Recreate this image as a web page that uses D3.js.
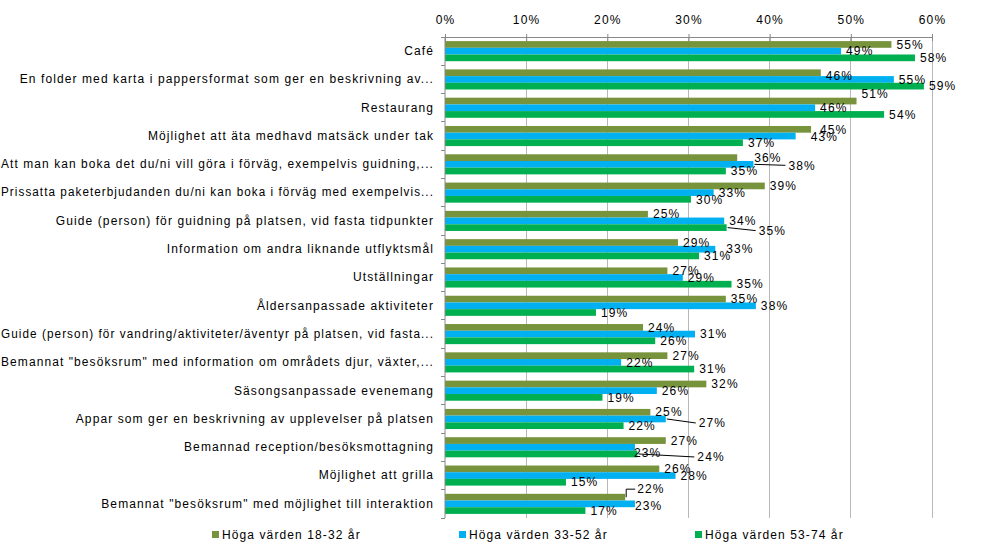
<!DOCTYPE html>
<html><head><meta charset="utf-8">
<script src="https://cdn.jsdelivr.net/npm/d3@7"></script>
<style>
html,body{margin:0;padding:0;background:#fff;}
svg{display:block;}
text{font-family:"Liberation Sans",Arial,sans-serif;fill:#000;}
</style></head>
<body><svg id="c" width="982" height="543"></svg>
<script>
const categories = [
  "Café",
  "En folder med karta i pappersformat som ger en beskrivning av...",
  "Restaurang",
  "Möjlighet att äta medhavd matsäck under tak",
  "Att man kan boka det du/ni vill göra i förväg, exempelvis guidning,...",
  "Prissatta paketerbjudanden du/ni kan boka i förväg med exempelvis...",
  "Guide (person) för guidning på platsen, vid fasta tidpunkter",
  "Information om andra liknande utflyktsmål",
  "Utställningar",
  "Åldersanpassade aktiviteter",
  "Guide (person) för vandring/aktiviteter/äventyr på platsen, vid fasta...",
  "Bemannat \"besöksrum\" med information om områdets djur, växter,...",
  "Säsongsanpassade evenemang",
  "Appar som ger en beskrivning av upplevelser på platsen",
  "Bemannad reception/besöksmottagning",
  "Möjlighet att grilla",
  "Bemannat \"besöksrum\" med möjlighet till interaktion"
];
const seriesNames = ["Höga värden 18-32 år", "Höga värden 33-52 år", "Höga värden 53-74 år"];
const values1832 = [55.0, 46.3, 50.7, 45.1, 36.0, 39.4, 25.0, 28.7, 27.4, 34.6, 24.4, 27.4, 32.2, 25.3, 27.2, 26.4, 22.2];
const values3352 = [48.8, 55.3, 45.6, 43.2, 38.0, 33.1, 34.4, 33.3, 29.3, 38.3, 30.8, 21.7, 26.1, 27.2, 23.4, 28.4, 23.4];
const values5374 = [57.9, 59.0, 54.1, 36.7, 34.6, 30.3, 34.7, 31.3, 35.3, 18.6, 25.9, 30.7, 19.4, 22.0, 23.7, 14.9, 17.3];
const xTicks = [0, 10, 20, 30, 40, 50, 60];
const seriesColors = ["#77933C", "#00B0F0", "#00B050"];
// label nudges [seriesIndex, categoryIndex, dx, dy, leader]
const labelNudges = [
  [0,1,0,3,false],[0,2,0,-7,false],[0,3,4,0,false],[1,3,10,1,false],[0,4,12,0,false],
  [1,4,30,1,true],[2,6,27,3,true],[1,7,6,0,false],[1,13,28,4,true],
  [1,14,-6,6,false],[2,14,55,3,true],[0,16,7,-8,true],[1,16,-5,2,false]
];

const allSeries = [values1832, values3352, values5374];
const svg = d3.select("#c");
const L = 445, R = 932, T = 37, B = 518;
const FONT = "'Liberation Sans', Arial, sans-serif";
const x = d3.scaleLinear().domain([0, 60]).range([L, R]);
const y0 = d3.scaleBand().domain(categories).range([T, B]).paddingInner(0.29).paddingOuter(0.145);
const y1 = d3.scaleBand().domain(d3.range(3)).range([0, y0.bandwidth()]);

// gridlines
svg.append("g").selectAll("line").data(xTicks.slice(1)).join("line")
  .attr("x1", d => x(d)).attr("x2", d => x(d)).attr("y1", T).attr("y2", B)
  .attr("stroke", "#b8b8b8").attr("stroke-width", 1).attr("shape-rendering","crispEdges");

// bars
const barData = [];
allSeries.forEach((vals, s) => vals.forEach((v, i) => barData.push({s, i, v})));
svg.append("g").selectAll("rect").data(barData).join("rect")
  .attr("x", x(0)).attr("y", d => y0(categories[d.i]) + y1(d.s))
  .attr("width", d => x(d.v) - x(0)).attr("height", y1.bandwidth())
  .attr("fill", d => seriesColors[d.s]);

// top axis
const gTop = svg.append("g").attr("transform", `translate(0,${T})`)
  .call(d3.axisTop(x).tickValues(xTicks).tickFormat(d => d + "%").tickSizeInner(4).tickSizeOuter(0).tickPadding(9));
gTop.select(".domain").attr("stroke", "#888");
gTop.selectAll(".tick line").attr("stroke", "#888").attr("y2", 4).attr("y1", -3);
gTop.selectAll("text").attr("font-size", "12px").attr("letter-spacing", "1.2px").attr("fill","#000")
  .attr("font-family", FONT);

// left axis
const gLeft = svg.append("g").attr("transform", `translate(${L},0)`)
  .call(d3.axisLeft(y0).tickSize(0).tickPadding(11));
gLeft.select(".domain").attr("stroke", "#888").attr("d", `M0,${T}V${B}`);
const maxLabelW = L - 12;
gLeft.selectAll("text").attr("font-size", "12px").attr("letter-spacing", "1.1px").attr("fill","#000")
  .attr("font-family", FONT)
  .each(function() {
    const w = this.getComputedTextLength();
    if (w > maxLabelW) d3.select(this).attr("textLength", maxLabelW).attr("lengthAdjust", "spacingAndGlyphs");
  });
const bounds = categories.map((c) => y0(c) - y0.step() * y0.paddingInner() / 2).concat([B]);
svg.append("g").selectAll("line").data(bounds).join("line")
  .attr("x1", L - 4).attr("x2", L).attr("y1", d => d).attr("y2", d => d)
  .attr("stroke", "#888").attr("shape-rendering","crispEdges");

// value labels
const nudge = new Map(labelNudges.map(n => [n[0] + "_" + n[1], n]));
const lab = svg.append("g");
barData.forEach(d => {
  const n = nudge.get(d.s + "_" + d.i) || [d.s, d.i, 0, 0, false];
  const bx = x(d.v), by = y0(categories[d.i]) + y1(d.s) + y1.bandwidth() / 2;
  const tx = bx + 5 + n[2], ty = by + n[3];
  if (n[4]) {
    lab.append("path")
      .attr("d", n[3] < -4 ? `M${bx + 1},${by}V${ty}H${tx - 2}` : `M${bx + 1},${by}L${tx - 3},${ty}`)
      .attr("fill", "none").attr("stroke", "#000").attr("stroke-width", 1);
  }
  lab.append("text").attr("x", tx).attr("y", ty).attr("dy", "0.35em")
    .attr("font-size", "12px").attr("letter-spacing", "1.1px")
    .text(Math.round(d.v) + "%");
});

// legend
const legX = [212, 459, 695];
const leg = svg.append("g").selectAll("g").data(seriesNames).join("g")
  .attr("transform", (d, i) => `translate(${legX[i]},535)`);
leg.append("rect").attr("x", 0).attr("y", -4).attr("width", 7).attr("height", 7).attr("fill", (d, i) => seriesColors[i]);
leg.append("text").attr("x", 10).attr("dy", "0.35em").attr("font-size", "12px").attr("letter-spacing", "1.1px").text(d => d);
</script></body></html>
